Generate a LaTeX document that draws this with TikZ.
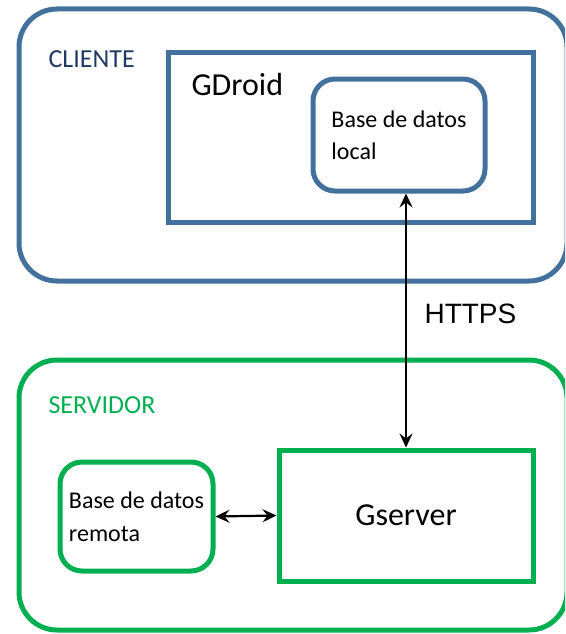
\documentclass[tikz,border=0pt]{standalone}
\usepackage{fontspec}
\setmainfont{Carlito}
\newfontfamily\arialfont{Liberation Sans}
\usepackage{tikz}
\usetikzlibrary{arrows.meta, positioning}
\definecolor{cliblue}{RGB}{65,113,156}
\definecolor{clitext}{RGB}{32,56,100}
\definecolor{srvgreen}{RGB}{0,176,80}

\begin{document}
\begin{tikzpicture}[x=1pt, y=-1pt,
    outerbox/.style={draw, line width=5pt, rounded corners=38pt},
    appbox/.style={draw, line width=5pt},
    dbbox/.style={draw, line width=5pt, rounded corners=22pt, align=left,
        font=\fontsize{24}{32}\selectfont},
    link/.style={{Stealth[length=14pt,width=13pt,inset=5pt]}-{Stealth[length=14pt,width=13pt,inset=5pt]},
        line width=2.2pt}]

    \useasboundingbox (0,0) rectangle (565,634);
    \clip (0,0) rectangle (565,634);

    % Bloque del cliente
    \node[outerbox, cliblue, minimum width=548, minimum height=272] (cliente) at (293,145) {};
    \node[anchor=base west, text=clitext, font=\fontsize{26}{30}\selectfont] (clientelbl) at (45,67) {CLIENTE};

    \node[appbox, cliblue, minimum width=365, minimum height=169] (gdroid) at (350.5,137.5) {};
    \node[anchor=base west, font=\fontsize{32}{36}\selectfont] (gdroidlbl) at (188,95) {GDroid};

    \node[dbbox, cliblue, text=black, minimum width=172, minimum height=112] (ldb) at (399,135) {Base de datos\\local};

    % Bloque del servidor
    \node[outerbox, srvgreen, minimum width=548, minimum height=270] (servidor) at (293,495) {};
    \node[anchor=base west, text=srvgreen, font=\fontsize{26}{30}\selectfont] (servidorlbl) at (45,413) {SERVIDOR};

    \node[appbox, srvgreen, text=black, minimum width=254, minimum height=131,
        font=\fontsize{32}{36}\selectfont] (gs) at (406,515.5) {Gserver};

    \node[dbbox, srvgreen, text=black, minimum width=153, minimum height=109,
        font=\fontsize{24}{33}\selectfont] (rdb) at (136.5,516.5) {Base de datos\\remota};

    % Conexiones
    \draw[link] (gs.north |- ldb.south) -- (gs.north);
    \node[anchor=base west, font=\arialfont\fontsize{28}{32}\selectfont] (https) at (421,323) {HTTPS};
    \draw[link] (rdb.east) -- (gs.west);

\end{tikzpicture}
\end{document}
